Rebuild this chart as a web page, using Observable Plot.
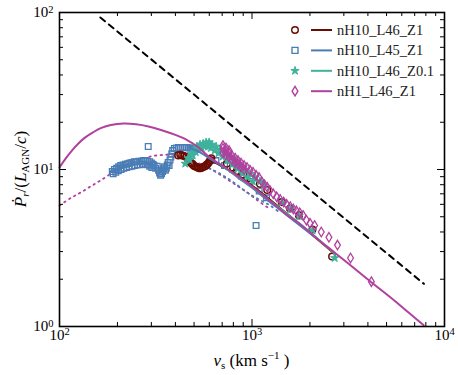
<!DOCTYPE html>
<html><head><meta charset="utf-8">
<script src="https://cdn.jsdelivr.net/npm/d3@7"></script>
<script src="https://cdn.jsdelivr.net/npm/@observablehq/plot@0.6"></script>
<style>body{margin:0;background:#fff}</style>
</head><body><div id="chart"></div>
<script>
// ---- tick values ----
const majorX = [100, 1000, 10000];
const minorX = [200,300,400,500,600,700,800,900,2000,3000,4000,5000,6000,7000,8000,9000];
const majorY = [1, 10, 100];
const minorY = [2,3,4,5,6,7,8,9,20,30,40,50,60,70,80,90];

// ---- series: [v_s (km/s), Pdot/(L/c)] ----
const dashedRef = [[163,93],[7820,1.87]];
const magentaSolid = [[100,10.3],[108,11.8],[116,13.2],[125,14.6],[135,15.9],[150,17.3],[165,18.4],[185,19.2],[215,19.6],[250,19.4],[290,18.8],[340,17.8],[400,16.6],[460,15.4],[520,14.0],[600,12.0],[700,10.6],[850,9.0],[1000,7.8],[1240,6.3],[1500,5.2],[1774,4.5],[2200,3.6],[2630,3.02],[3200,2.49],[4200,1.9],[5500,1.46],[6600,1.21],[7800,1.02]];
const blueSolid = [[470,13.8],[540,12.8],[620,11.5],[720,10.3],[850,8.85],[1000,7.65],[1200,6.4],[1450,5.35],[1774,4.4],[2100,3.75]];
const tealSolid = [[700,10.5],[850,8.95],[1000,7.75],[1300,6.05],[1837,4.35],[2700,2.9]];
const brownSolid = [[600,11.6],[800,9.5],[1000,7.9],[1500,5.3],[2600,3.0]];
const magentaDotted = [[100,5.9],[115,6.6],[128,7.1],[145,7.8],[163,8.5],[190,9.6],[215,10.5],[242,11.2],[275,11.8],[307,12.2],[350,12.4],[390,12.4],[440,12.0],[500,11.3],[560,10.6],[626,9.9],[720,8.9],[835,7.9],[950,7.1],[1060,6.4],[1240,5.6]];
const blueDotted = [[560,10.6],[683,9.4],[800,8.3],[950,7.1],[1100,6.4],[1240,5.9],[1400,5.3]];

const blueSquares = [
 [188,9.7],[193,10.0],[198,10.2],[203,10.4],[208,10.6],[214,10.7],[220,10.8],[226,10.9],[232,11.0],[238,11.1],[245,11.2],[252,11.2],[259,11.3],[266,11.3],[273,11.4],[280,11.4],[287,11.3],[294,11.2],[300,11.0],[306,10.8],
 [190,9.4],[196,9.6],[202,9.8],[209,10.0],[216,10.2],[223,10.3],[230,10.4],[238,10.5],[246,10.6],[254,10.7],[262,10.7],[270,10.8],[278,10.8],[286,10.7],[294,10.5],[302,10.3],
 [310,10.6],[316,10.2],[322,10.5],[327,9.9],[331,9.5],[335,9.2],[339,9.4],[343,9.7],[347,10.1],[351,10.4],[355,9.9],[359,10.2],[363,10.7],[367,11.1],[371,10.6],[375,11.5],[379,12.0],[383,12.6],[387,13.2],
 [395,13.6],[405,13.7],[415,13.8],[425,13.8],[436,13.8],[447,13.8],[458,13.8],[470,13.7],[482,13.7],[495,13.6],[508,13.5],[521,13.4],
 [289,14.0],[650,11.4],[720,10.6],[795,10.0],[880,9.1],[977,8.4],[1090,7.3],[1190,6.6],[1050,4.4]
];
const brownCircles = [
 [414,12.3],[424,12.4],[434,12.3],[444,12.2],[455,12.0],[464,11.7],[472,11.4],[479,11.1],[486,10.9],[494,10.7],[503,10.5],[513,10.4],[522,10.3],[531,10.2],[541,10.2],[551,10.3],[561,10.4],[571,10.5],[581,10.7],[591,10.9],[600,11.2],[608,11.5],[615,11.8],
 [740,10.9],[795,10.3],[835,9.8],[900,9.3],[977,8.8],[1100,8.1],[1200,7.4],
 [1426,6.2],[1575,5.65],[1753,5.1],[2061,4.15],[2607,2.79]
];
const tealStars = [
 [450,10.9],[466,11.8],[483,12.6],[500,13.4],[518,14.0],[537,14.4],[557,14.6],[578,14.9],[599,14.9],[620,14.4],[651,14.0],[683,13.4],[725,12.8],[769,12.1],[817,11.4],[867,10.6],[920,10.0],[977,9.4],[1037,8.9],[1099,8.4],[1153,8.0],
 [475,11.5],[492,12.3],[510,12.9],[528,13.4],[548,13.7],[568,14.0],[590,14.0],[612,13.7],[640,13.2],[670,12.7],[705,12.1],[745,11.4],[790,10.8],[840,10.1],[895,9.4],[950,8.9],[1010,8.4],
 [1430,6.15],[1580,5.6],[1758,5.05],[2066,4.1],[2690,2.73]
];
const magentaDiamonds = [
 [707,13.6],[733,13.1],[760,12.7],[788,12.2],[817,11.8],[846,11.4],[877,11.0],[909,10.6],[942,10.3],[976,9.9],[1012,9.6],[1049,9.2],[1087,8.9],
 [707,12.8],[733,12.4],[760,12.0],[788,11.5],[817,11.1],[846,10.8],[877,10.4],[909,10.0],
 [707,14.2],[733,13.7],[760,13.2],
 [1127,8.3],[1160,8.0],[1200,7.7],[1240,7.35],[1290,7.0],[1343,6.7],[1400,6.45],[1460,6.2],[1513,6.0],[1580,5.8],[1640,5.6],[1702,5.45],[1770,5.3],[1843,5.1],[1918,4.75],[2000,4.55],[2115,4.4],[2290,4.0],[2510,3.7],[2780,3.3],[3250,2.73],[4170,1.93]
];

const legendItems = [
  {label: "nH10_L46_Z1", color: "#6b0c03", sym: "circle"},
  {label: "nH10_L45_Z1", color: "#4a7db5", sym: "square"},
  {label: "nH10_L46_Z0.1", color: "#3fb29c", sym: "star"},
  {label: "nH1_L46_Z1", color: "#b0419e", sym: "diamond"}
];
const [BROWN, BLUE, TEAL, MAGENTA] = legendItems.map(d => d.color);

const thinDiamond = {draw(ctx, size) {
  const r = Math.sqrt(size / Math.PI);
  ctx.moveTo(0, -r * 1.4); ctx.lineTo(r * 0.85, 0); ctx.lineTo(0, r * 1.4); ctx.lineTo(-r * 0.85, 0); ctx.closePath();
}};

const W = 458, H = 375, mL = 59, mR = 14, mT = 12, mB = 49;
const PH = H - mT - mB, PW = W - mL - mR;
const fmt = d => "10^" + Math.round(Math.log10(d));
const X = d => d[0], Y = d => d[1];

const chart = Plot.plot({
  width: W, height: H, marginLeft: mL, marginRight: mR, marginTop: mT, marginBottom: mB,
  x: {type: "log", domain: [100, 10000]},
  y: {type: "log", domain: [1, 100]},
  style: {fontFamily: "'Liberation Serif', serif", fontSize: "14px", background: "white", color: "black"},
  marks: [
    Plot.line(dashedRef, {x: X, y: Y, stroke: "black", strokeWidth: 2, strokeDasharray: "6,5"}),
    Plot.line(magentaDotted, {x: X, y: Y, stroke: MAGENTA, strokeWidth: 1.8, strokeDasharray: "1.5,4.2", curve: "catmull-rom"}),
    Plot.line(blueDotted, {x: X, y: Y, stroke: BLUE, strokeWidth: 1.8, strokeDasharray: "1.5,4.2", curve: "catmull-rom"}),
    Plot.dot(blueSquares, {x: X, y: Y, symbol: "square", r: 3.2, stroke: BLUE, strokeWidth: 1.3, fill: "none"}),
    Plot.dot(brownCircles, {x: X, y: Y, symbol: "circle", r: 3.3, stroke: BROWN, strokeWidth: 1.5, fill: "none"}),
    Plot.dot(tealStars, {x: X, y: Y, symbol: "star", r: 2.6, stroke: TEAL, strokeWidth: 1, fill: TEAL}),
    Plot.line(brownSolid, {x: X, y: Y, stroke: BROWN, strokeWidth: 2, curve: "catmull-rom"}),
    Plot.line(blueSolid, {x: X, y: Y, stroke: BLUE, strokeWidth: 2, curve: "catmull-rom"}),
    Plot.line(tealSolid, {x: X, y: Y, stroke: TEAL, strokeWidth: 2, curve: "catmull-rom"}),
    Plot.line(magentaSolid, {x: X, y: Y, stroke: MAGENTA, strokeWidth: 2, curve: "catmull-rom"}),
    Plot.dot(magentaDiamonds, {x: X, y: Y, symbol: thinDiamond, r: 3.4, stroke: MAGENTA, strokeWidth: 1.3, fill: "none"}),
    // inward ticks on all four sides
    Plot.tickX(majorX, {x: d => d, insetTop: PH - 7, stroke: "black"}),
    Plot.tickX(majorX, {x: d => d, insetBottom: PH - 7, stroke: "black"}),
    Plot.tickX(minorX, {x: d => d, insetTop: PH - 4, stroke: "black"}),
    Plot.tickX(minorX, {x: d => d, insetBottom: PH - 4, stroke: "black"}),
    Plot.tickY(majorY, {y: d => d, insetRight: PW - 7, stroke: "black"}),
    Plot.tickY(majorY, {y: d => d, insetLeft: PW - 7, stroke: "black"}),
    Plot.tickY(minorY, {y: d => d, insetRight: PW - 4, stroke: "black"}),
    Plot.tickY(minorY, {y: d => d, insetLeft: PW - 4, stroke: "black"}),
    Plot.axisX(majorX, {tickSize: 0, tickPadding: 3, tickFormat: fmt, label: null, fontSize: 15}),
    Plot.axisY(majorY, {tickSize: 0, tickPadding: 6, tickFormat: fmt, label: null, fontSize: 15}),
    Plot.frame({stroke: "black", strokeWidth: 1.6})
  ]
});
document.getElementById("chart").appendChild(chart);

const svg = d3.select(chart);
// superscript exponents in tick labels
svg.selectAll('g[aria-label$="tick label"] text').each(function() {
  const m = this.textContent.match(/^10\^(-?\d+)$/);
  if (!m) return;
  const s = d3.select(this); s.text(null);
  s.append("tspan").text("10");
  s.append("tspan").attr("dy", "-0.45em").attr("font-size", "0.7em").text(m[1]);
});

// axis titles
const ff = "'Liberation Serif', serif";
const xt = svg.append("text").attr("x", mL + PW / 2).attr("y", 366).attr("text-anchor", "middle")
  .attr("font-family", ff).attr("font-size", 17).attr("fill", "black");
xt.append("tspan").attr("font-style", "italic").text("v");
xt.append("tspan").attr("dy", 3).attr("font-size", 11).text("s");
xt.append("tspan").attr("dy", -3).text(" (km s");
xt.append("tspan").attr("dy", -7).attr("font-size", 11).text("−1");
xt.append("tspan").attr("dy", 7).text(" )");

const yt = svg.append("text").attr("transform", `translate(26,${mT + PH / 2}) rotate(-90)`).attr("text-anchor", "middle")
  .attr("font-family", ff).attr("font-size", 17).attr("fill", "black");
yt.append("tspan").attr("font-style", "italic").text("Ṗ");
yt.append("tspan").attr("font-style", "italic").attr("dy", 3).attr("font-size", 11).text("r");
yt.append("tspan").attr("dy", -3).text("/(");
yt.append("tspan").attr("font-style", "italic").text("L");
yt.append("tspan").attr("dy", 3).attr("font-size", 11).text("AGN");
yt.append("tspan").attr("dy", -3).text("/");
yt.append("tspan").attr("font-style", "italic").text("c");
yt.append("tspan").text(")");

// legend
const lg = svg.append("g");
legendItems.forEach((d, i) => {
  const y = 30 + i * 20.4, mx = 295;
  const path = d.sym === "diamond" ? d3.symbol(thinDiamond, Math.PI * 3.4 * 3.4)()
    : d.sym === "square" ? d3.symbol(d3.symbolSquare, 36)()
    : d.sym === "star" ? d3.symbol(d3.symbolStar, Math.PI * 2.6 * 2.6)()
    : d3.symbol(d3.symbolCircle, Math.PI * 3.3 * 3.3)();
  lg.append("path").attr("d", path).attr("transform", `translate(${mx},${y})`)
    .attr("fill", d.sym === "star" ? d.color : "none").attr("stroke", d.color).attr("stroke-width", d.sym === "star" ? 1 : 1.4);
  lg.append("line").attr("x1", 311).attr("x2", 332).attr("y1", y).attr("y2", y).attr("stroke", d.color).attr("stroke-width", 2);
  lg.append("text").attr("x", 337).attr("y", y + 5).attr("text-anchor", "start").attr("font-family", ff).attr("font-size", 14.5).attr("fill", "#222").text(d.label);
});
</script>
</body></html>
